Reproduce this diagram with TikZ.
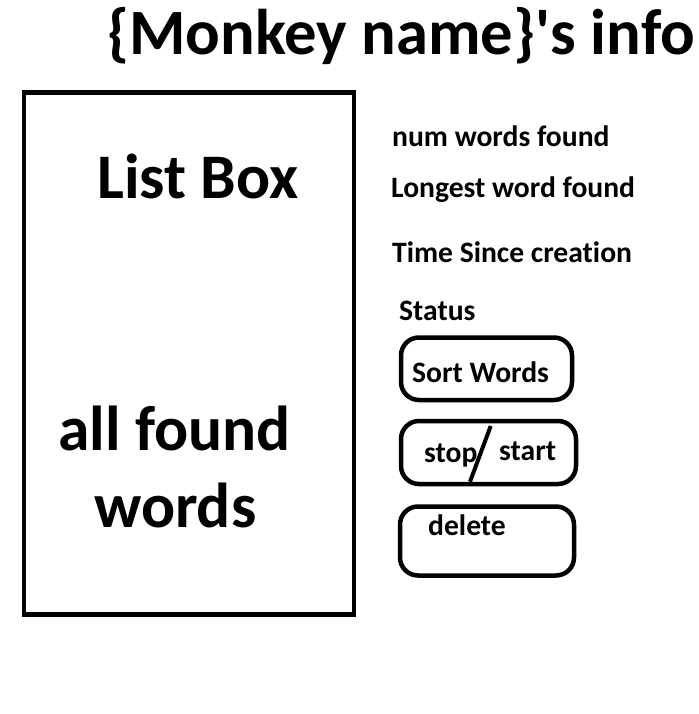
\documentclass[tikz,border=0pt]{standalone}
\usepackage{fontspec}
\setmainfont{Carlito}[Ligatures={NoCommon}]
\begin{document}
\begin{tikzpicture}[x=1pt,y=-1pt,
  txt/.style={inner sep=0pt, anchor=base west, font=\bfseries\fontsize{#1}{#1}\selectfont},
  listbox/.style={draw, line width=4.5pt, inner sep=0pt},
  btn/.style={draw, line width=4.5pt, rounded corners=18pt, inner sep=0pt}]
\useasboundingbox[fill=white] (0,0) rectangle (698,714);
% title
\node[txt=64.6] (title) at (107,55) {\{Monkey name\}\textquotesingle s info};
% list box
\node[listbox, minimum width=330pt, minimum height=522pt] (lb) at (189,353.5) {};
\node[txt=63.5] (lbt) at (97,198.5) {List Box};
\node[txt=63.5] (all) at (58,450) {all found};
\node[txt=63.5] (words) at (94,527) {words};
% info
\node[txt=29.6] (num) at (392,147) {num words found};
\node[txt=29.6] (long) at (391,197) {Longest word found};
\node[txt=29.6] (time) at (392,262) {Time Since creation};
\node[txt=29.6] (status) at (399,320) {Status};
% buttons
\node[btn, minimum width=171pt, minimum height=62.5pt] (sortb) at (486.5,368.75) {};
\node[txt=29.6] (sortt) at (412,382) {Sort Words};
\node[btn, minimum width=175pt, minimum height=63pt] (ssb) at (488.5,452.5) {};
\node[txt=29.6] (stopt) at (424,462) {stop};
\node[txt=29.6] (startt) at (499,460) {start};
\coordinate (s1) at (490.7,426);
\coordinate (s2) at (470,481.7);
\draw[line width=4pt] (s1) -- (s2);
\node[btn, minimum width=174pt, minimum height=69pt] (delb) at (487,541) {};
\node[txt=29.6] (delt) at (428,535) {delete};
\end{tikzpicture}
\end{document}
